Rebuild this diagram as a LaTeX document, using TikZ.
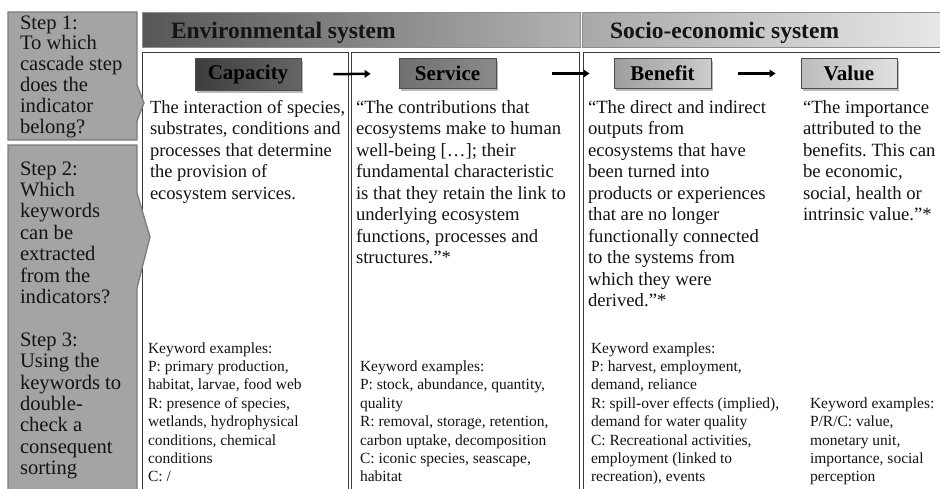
\documentclass[tikz,border=0pt]{standalone}
\usepackage{fontspec}
\setmainfont{Liberation Serif}
\usetikzlibrary{arrows.meta,shadows}
\definecolor{stepfill}{HTML}{A4A4A4}
\definecolor{stepline}{HTML}{7C7C7C}
\definecolor{panelline}{HTML}{3A3A3A}
\frenchspacing
\newcommand{\txtblock}[4]{\parbox[t]{#1}{\raggedright\frenchspacing\fontsize{#2}{#3}\selectfont #4}}
\tikzset{
  txt/.style={anchor=base west, inner sep=0pt, outer sep=0pt, text=black!92},
  panel/.style={draw=panelline, line width=0.9pt},
  stepshape/.style={fill=stepfill, draw=stepline, line width=1.3pt, line join=miter},
  header/.style={draw=black!45, line width=0.6pt},
  labelbox/.style={minimum width=97pt, minimum height=30pt, inner sep=0pt, draw=black!70, line width=0.7pt,
     font=\fontsize{21}{24}\selectfont\bfseries,
     drop shadow={shadow xshift=2pt, shadow yshift=-2pt, fill=black!45, opacity=0.6}},
  flow/.style={line width=2.5pt, -{Triangle[length=6pt,width=7.5pt]}},
}
\begin{document}
\begin{tikzpicture}[x=1pt,y=-1pt]
\useasboundingbox (0,0) rectangle (940,488);
\clip (0,0) rectangle (940,488);
\fill[white] (0,0) rectangle (940,488);

% headers
\shade[header, left color=black!66, right color=black!30] (142,12) rectangle (580,47);
\shade[header, left color=black!34, right color=black!9] (582,12) rectangle (945,47);
\node[txt, font=\fontsize{23.5}{26}\selectfont\bfseries] (envh) at (171,38) {Environmental system};
\node[txt, font=\fontsize{23.5}{26}\selectfont\bfseries] (soch) at (610,38) {Socio-economic system};

% panels
\draw[panel] (142,495) -- (142,52) -- (348,52) -- (348,495);
\draw[panel] (351,495) -- (351,52) -- (579,52) -- (579,495);
\draw[panel] (583,495) -- (583,52) -- (945,52);

% step shapes
\draw[stepshape] (8,12) -- (137,12) -- (137,85) -- (144,103) -- (137,121) -- (137,140) -- (8,140) -- cycle;
\draw[stepshape] (8,145) -- (137,145) -- (137,193) -- (150,237) -- (137,288) -- (137,495) -- (8,495) -- cycle;

% step texts
\node[txt] (s1) at (20,29) {\txtblock{125pt}{20.6}{20.9}{Step 1:\\ To which\\ cascade step\\ does the\\ indicator\\ belong?}};
\node[txt] (s2) at (20,175) {\txtblock{125pt}{20.6}{21.4}{Step 2:\\ Which\\ keywords\\ can be\\ extracted\\ from the\\ indicators?}};
\node[txt] (s3) at (20,346.2) {\txtblock{125pt}{20.6}{21.4}{Step 3:\\ Using the\\ keywords to\\ double-\\ check a\\ consequent\\ sorting}};

% label boxes
\node[labelbox, minimum width=106pt, minimum height=32pt, left color=black!76, right color=black!60] (cap) at (248,74.5) {Capacity};
\node[labelbox, left color=black!56, right color=black!46] (ser) at (447.5,73.5) {Service};
\node[labelbox, left color=black!38, right color=black!20] (ben) at (662.5,73.5) {Benefit};
\node[labelbox, minimum width=96pt, left color=black!26, right color=black!12] (val) at (849,73.5) {Value};

% arrows
\draw[flow, shorten <=32pt, shorten >=28pt] (cap.east) -- (ser.west);
\draw[flow, shorten <=56pt, shorten >=24pt] (ser.east) -- (ben.west);
\draw[flow, shorten <=27pt, shorten >=25pt] (ben.east) -- (val.west);

% definitions
\node[txt] (dcap) at (150,113) {\txtblock{200pt}{18.5}{21.5}{The interaction of species,\\ substrates, conditions and\\ processes that determine\\ the provision of\\ ecosystem services.}};
\node[txt] (dser) at (356,113) {\txtblock{230pt}{18.7}{21.5}{“The contributions that\\ ecosystems make to human\\ well-being […]; their\\ fundamental characteristic\\ is that they retain the link to\\ underlying ecosystem\\ functions, processes and\\ structures.”*}};
\node[txt] (dben) at (588,113) {\txtblock{220pt}{18.7}{21.5}{“The direct and indirect\\ outputs from\\ ecosystems that have\\ been turned into\\ products or experiences\\ that are no longer\\ functionally connected\\ to the systems from\\ which they were\\ derived.”*}};
\node[txt] (dval) at (803,113) {\txtblock{140pt}{18.7}{21.5}{“The importance\\ attributed to the\\ benefits. This can\\ be economic,\\ social, health or\\ intrinsic value.”*}};

% keywords
\node[txt] (kcap) at (148,353) {\txtblock{200pt}{15.5}{18.4}{Keyword examples:\\ P: primary production,\\ habitat, larvae, food web\\ R: presence of species,\\ wetlands, hydrophysical\\ conditions, chemical\\ conditions\\ C: /}};
\node[txt] (kser) at (360,371.4) {\txtblock{230pt}{15.5}{18.4}{Keyword examples:\\ P: stock, abundance, quantity,\\ quality\\ R: removal, storage, retention,\\ carbon uptake, decomposition\\ C: iconic species, seascape,\\ habitat}};
\node[txt] (kben) at (591,353) {\txtblock{230pt}{15.5}{18.4}{Keyword examples:\\ P: harvest, employment,\\ demand, reliance\\ R: spill-over effects (implied),\\ demand for water quality\\ C: Recreational activities,\\ employment (linked to\\ recreation), events}};
\node[txt] (kval) at (810,408.2) {\txtblock{140pt}{15.5}{18.4}{Keyword examples:\\ P/R/C: value,\\ monetary unit,\\ importance, social\\ perception}};
\end{tikzpicture}
\end{document}
